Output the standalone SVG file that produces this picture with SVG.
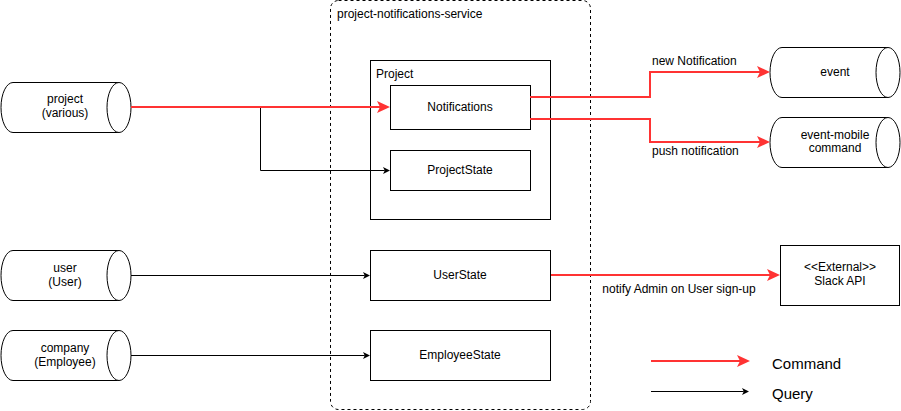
<svg xmlns="http://www.w3.org/2000/svg" width="901" height="411" viewBox="0 0 901 411">
  <style>
    text { font-family: "Liberation Sans", Arial, Helvetica, sans-serif; font-size: 12px; fill: #000; }
    .c { text-anchor: middle; }
    .box { fill: #fff; stroke: #000; stroke-width: 1; }
    .cyl { fill: #fff; stroke: #000; stroke-width: 1; }
    .cmd { fill: none; stroke: #ff3333; stroke-width: 2; }
    .qry { fill: none; stroke: #000; stroke-width: 1; }
    .legend { font-size: 15px; }
  </style>
  <defs>
    <marker id="arrRed" markerUnits="userSpaceOnUse" markerWidth="13" markerHeight="12" refX="3" refY="6" orient="auto" overflow="visible">
      <path d="M0,0 L13,6 L0,12 L3,6 Z" fill="#ff3333"/>
    </marker>
    <marker id="arrBlk" markerUnits="userSpaceOnUse" markerWidth="7" markerHeight="7" refX="1.75" refY="3.5" orient="auto" overflow="visible">
      <path d="M0,0 L7,3.5 L0,7 L1.75,3.5 Z" fill="#000"/>
    </marker>
    <g id="cylShape">
      <path class="cyl" d="M12,0 L118,0 A12,25 0 0 1 118,50 L12,50 A12,25 0 0 1 12,0 Z"/>
      <path class="cyl" d="M118,0 A12,25 0 0 0 118,50"/>
    </g>
  </defs>

  <g id="service">
    <rect x="330.5" y="0.5" width="260" height="409" rx="8" ry="8" fill="#fff" stroke="#000" stroke-dasharray="3 3"/>
    <text x="337" y="18">project-notifications-service</text>
  </g>

  <g id="project-group">
    <rect class="box" x="370.5" y="60.5" width="180" height="159"/>
    <text x="376" y="78">Project</text>
  </g>

  <g id="notifications">
    <rect class="box" x="390.5" y="85.5" width="140" height="44"/>
    <text class="c" x="460" y="111">Notifications</text>
  </g>

  <g id="projectstate">
    <rect class="box" x="390.5" y="150.5" width="140" height="40"/>
    <text class="c" x="460" y="174">ProjectState</text>
  </g>

  <g id="userstate">
    <rect class="box" x="370.5" y="250.5" width="180" height="50"/>
    <text class="c" x="460" y="279">UserState</text>
  </g>

  <g id="employeestate">
    <rect class="box" x="370.5" y="330.5" width="180" height="50"/>
    <text class="c" x="460" y="359">EmployeeState</text>
  </g>

  <g id="project-topic">
    <use href="#cylShape" transform="translate(1,82.5)"/>
    <text class="c" x="65" y="103">project</text>
    <text class="c" x="65" y="117">(various)</text>
  </g>

  <g id="user-topic">
    <use href="#cylShape" transform="translate(1,250.5)"/>
    <text class="c" x="65" y="272">user</text>
    <text class="c" x="65" y="286">(User)</text>
  </g>

  <g id="company-topic">
    <use href="#cylShape" transform="translate(1,330.5)"/>
    <text class="c" x="65" y="352">company</text>
    <text class="c" x="65" y="366">(Employee)</text>
  </g>

  <g id="event-topic">
    <use href="#cylShape" transform="translate(770,47.5)"/>
    <text class="c" x="835" y="76">event</text>
  </g>

  <g id="event-mobile-topic">
    <use href="#cylShape" transform="translate(770,117.5)"/>
    <text class="c" x="835" y="139">event-mobile</text>
    <text class="c" x="835" y="152">command</text>
  </g>

  <g id="slack">
    <rect class="box" x="780.5" y="245.5" width="119" height="60"/>
    <text class="c" x="840" y="271">&lt;&lt;External&gt;&gt;</text>
    <text class="c" x="840" y="285">Slack API</text>
  </g>

  <g id="connectors">
    <path class="qry" d="M131,107.5 L260.5,107.5 L260.5,170.5 L384.75,170.5" marker-end="url(#arrBlk)"/>
    <path class="cmd" d="M131,107 L380,107" marker-end="url(#arrRed)"/>
    <path class="cmd" d="M530,97 L650,97 L650,72 L760,72" marker-end="url(#arrRed)"/>
    <text x="652" y="65">new Notification</text>
    <path class="cmd" d="M530,119 L650,119 L650,142 L760,142" marker-end="url(#arrRed)"/>
    <text x="652" y="155">push notification</text>
    <path class="qry" d="M131,275.5 L364.75,275.5" marker-end="url(#arrBlk)"/>
    <path class="qry" d="M131,355.5 L364.75,355.5" marker-end="url(#arrBlk)"/>
    <path class="cmd" d="M551,275 L770,275" marker-end="url(#arrRed)"/>
    <text class="c" x="679" y="293">notify Admin on User sign-up</text>
  </g>

  <g id="legend">
    <path class="cmd" d="M651,361 L740,361" marker-end="url(#arrRed)"/>
    <text class="legend" x="772" y="369">Command</text>
    <path class="qry" d="M651,391.5 L743.75,391.5" marker-end="url(#arrBlk)"/>
    <text class="legend" x="772" y="399">Query</text>
  </g>
</svg>
